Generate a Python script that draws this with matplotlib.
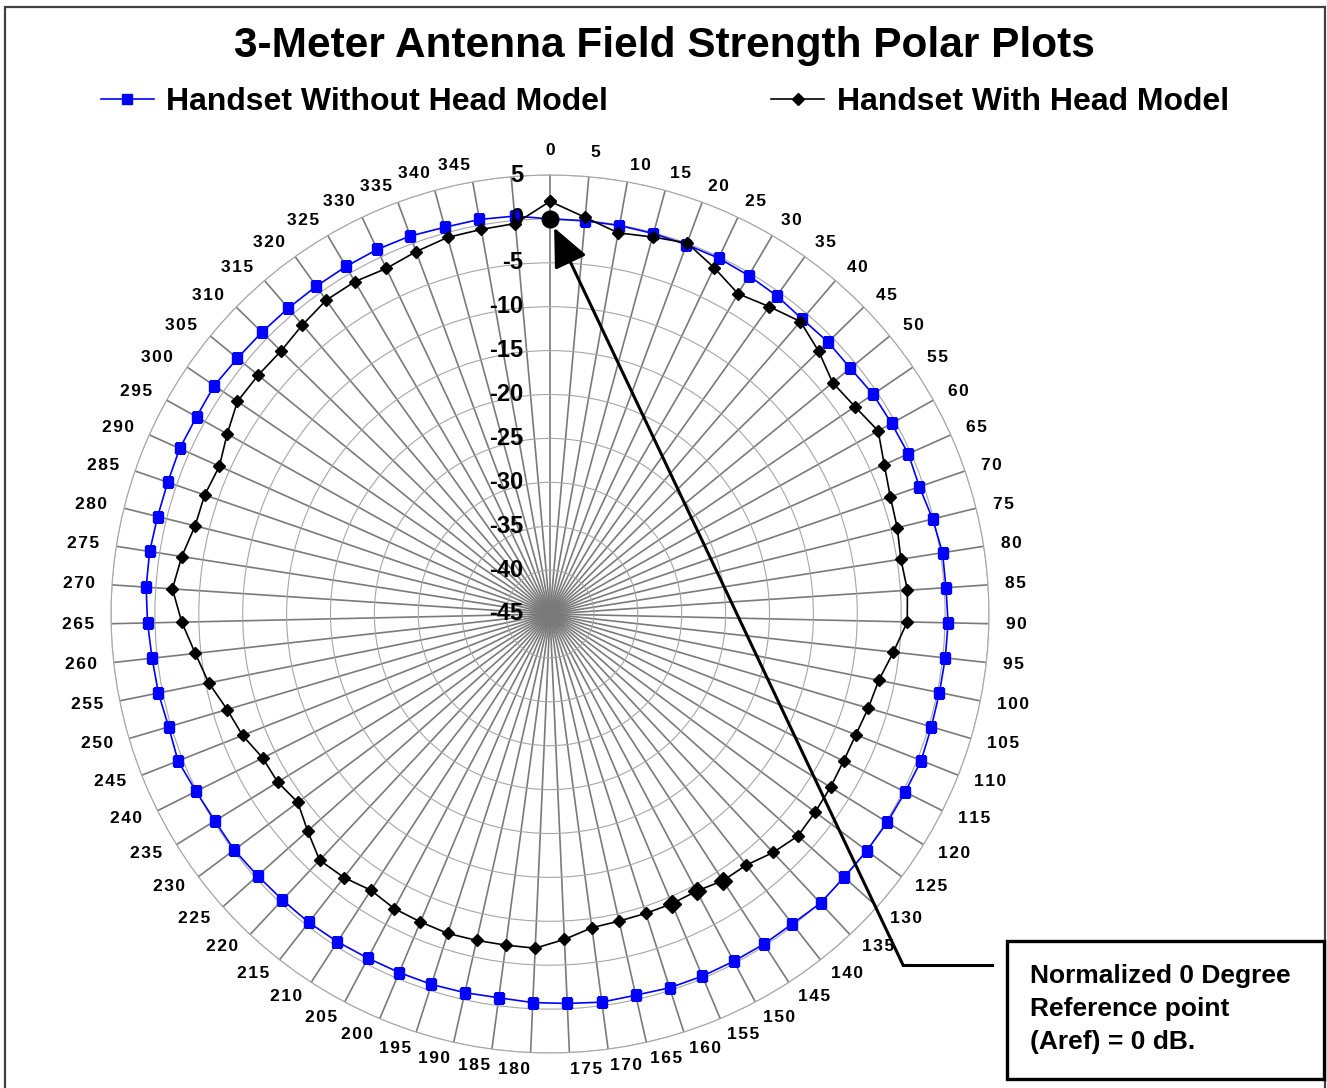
import numpy as np
import matplotlib.pyplot as plt
from matplotlib.lines import Line2D
from matplotlib.patches import Rectangle

plt.rcParams['font.family'] = ['Liberation Sans', 'DejaVu Sans']
plt.rcParams['font.weight'] = 'bold'

# 71 spokes, the last one carries no label
angle_labels = [str(a) for a in range(0, 350, 5)] + ['']
db_ticks = list(range(-45, 10, 5))

# field strength in dB, one value per spoke
no_head = [0.0, -0.05, -0.05, -0.1, -0.15, -0.15, -0.3, -0.5, -0.8, -0.7,
           -0.8, -0.5, -0.45, -0.3, -0.5, -0.1, 0.25, 0.2, 0.35, 0.3,
           0.25, 0.3, 0.45, 0.25, 0.15, 0.05, -0.05, 0.1, -0.2, -0.2,
           -0.25, -0.25, -0.3, -0.5, -0.4, -0.6, -0.7, -0.9, -0.8, -0.7,
           -0.7, -0.65, -0.5, -0.4, -0.4, -0.3, -0.1, -0.15, 0.1, 0.55,
           0.3, 0.5, 0.6, 0.85, 1.1, 1.15, 1.05, 1.05, 1.2, 1.1,
           1.25, 1.0, 0.9, 0.85, 0.85, 0.9, 0.95, 0.9, 0.65, 0.65, 0.5]
with_head = [2.0, 0.35, -0.9, -0.5, 0.05, -1.35, -2.7, -2.0, -1.15, -2.2,
             -3.4, -3.0, -2.2, -3.3, -4.0, -4.25, -4.55, -4.2, -4.3, -5.65,
             -6.8, -7.2, -7.55, -7.6, -7.45, -7.3, -7.1, -7.8, -8.7, -8.8,
             -9.3, -9.2, -9.2, -9.15, -8.95, -7.9, -6.9, -6.95, -6.9, -6.8,
             -6.95, -7.05, -7.5, -6.9, -6.6, -7.95, -9.15, -8.55, -8.4, -7.35,
             -6.65, -5.35, -4.35, -3.05, -1.9, -2.55, -3.35, -3.4, -3.75, -2.9,
             -1.95, -2.05, -2.15, -1.65, -1.1, -1.1, -1.45, -1.0, -0.55, -0.5, -0.35]
big_points = [29, 30, 31]
ref_db = 0.0

theta = np.arange(len(no_head)) * 2 * np.pi / len(no_head)

fig = plt.figure(figsize=(13.27, 10.88), dpi=100)
W, H = 1327.0, 1088.0

# chart frame
fig.add_artist(Rectangle((5 / W, -0.02), 1320 / W, 1.02 - 7 / H, transform=fig.transFigure,
                         fill=False, ec='#404040', lw=1.6))

cx, cy, R = 550.0, 614.0, 439.0
ax = fig.add_axes([(cx - R) / W, (H - cy - R) / H, 2 * R / W, 2 * R / H], projection='polar')
ax.set_theta_zero_location('N')
ax.set_theta_direction(-1)
ax.set_ylim(-45, 5)
ax.set_yticks(db_ticks)
ax.set_yticklabels([])
ax.set_xticks(theta)
ax.set_xticklabels([])
ax.tick_params(length=0)
ax.xaxis.grid(True, color='#7a7a7a', lw=1.2)
ax.yaxis.grid(True, color='#a6a6a6', lw=0.8)
ax.spines['polar'].set_color('#a6a6a6')
ax.spines['polar'].set_linewidth(0.8)

th_c = np.append(theta, theta[0])
l1, = ax.plot(th_c, no_head + no_head[:1], color='#0000ff', lw=1.2,
              marker='s', ms=7.5, mfc='#0000ff', mec='#0000ff', label='Handset Without Head Model')
l2, = ax.plot(th_c, with_head + with_head[:1], color='black', lw=1.2,
              marker='D', ms=6.3, mfc='black', mec='black', label='Handset With Head Model')
ax.plot(theta[big_points], np.array(with_head)[big_points], ls='none',
        marker='D', ms=9.5, color='black')
ax.plot([theta[0]], [ref_db], ls='none', marker='o', ms=12, color='black', zorder=5)

# spoke labels
Rl = 456.0 / R
for i, lab in enumerate(angle_labels):
    s, c = np.sin(theta[i]), np.cos(theta[i])
    ha = 'center' if abs(s) < 0.01 else ('left' if s > 0 else 'right')
    va = 'bottom' if c > 0.99 else 'center'
    ax.text(0.5 + 0.5 * Rl * s, 0.5 + 0.5 * Rl * c, '\u200a'.join(lab), transform=ax.transAxes,
            ha=ha, va=va, fontsize=12.5, fontweight='bold')

# radial labels
for v in db_ticks:
    ax.text(0.5 - 27 / (2 * R), 0.5 + 0.5 * (v + 45) / 50, str(v), transform=ax.transAxes,
            ha='right', va='center', fontsize=17, fontweight='bold')

fig.text(664 / W, 1 - 46 / H, '3-Meter Antenna Field Strength Polar Plots',
         ha='center', va='center', fontsize=30.5, fontweight='bold')

leg = fig.legend(handles=[l1, l2], loc='center left', bbox_to_anchor=(101 / W, 1 - 102 / H),
                 ncol=2, frameon=False, borderpad=0, borderaxespad=0,
                 handlelength=1.65, handletextpad=0.4, columnspacing=5.1,
                 prop={'size': 23, 'weight': 'bold'})

# reference point callout
ax.annotate('', xy=(theta[0], ref_db), xycoords='data',
            xytext=(903 / W, 1 - 965 / H), textcoords='figure fraction',
            arrowprops=dict(arrowstyle='-|>,head_length=2,head_width=0.9', lw=2.2,
                            color='black', shrinkA=0, shrinkB=7, mutation_scale=12),
            annotation_clip=False)
fig.add_artist(Line2D([903 / W, 992 / W], [1 - 965 / H, 1 - 965 / H],
                      transform=fig.transFigure, color='black', lw=2.2))
fig.add_artist(Rectangle((1007 / W, 1 - 1079 / H), 317 / W, 138 / H, transform=fig.transFigure,
                         fc='white', ec='black', lw=2.4))
fig.text(1030 / W, 1 - 1009 / H, 'Normalized 0 Degree\nReference point\n(Aref) = 0 dB.',
         ha='left', va='center', fontsize=19, fontweight='bold', linespacing=1.45)

fig.savefig('out.png', dpi=100)
